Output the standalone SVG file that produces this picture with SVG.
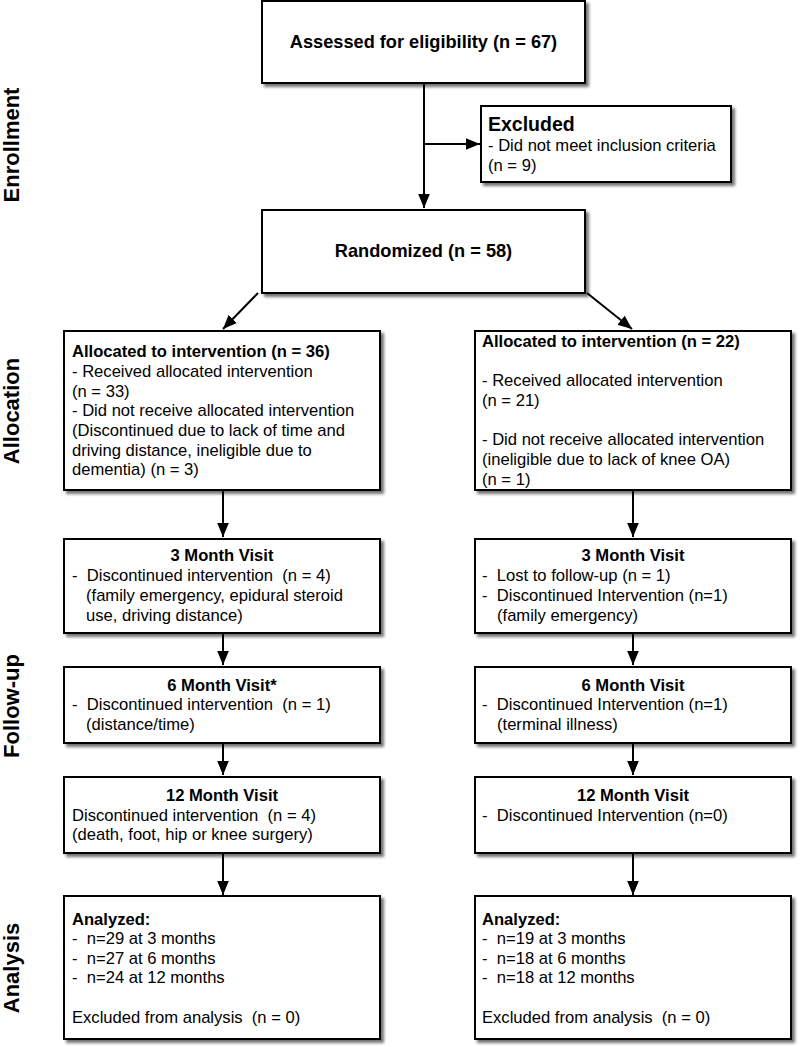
<svg xmlns="http://www.w3.org/2000/svg" width="800" height="1047" viewBox="0 0 800 1047">
<style>
.box{fill:#fff;stroke:#000;stroke-width:2;filter:url(#sh)}
text{font-family:"Liberation Sans",Arial,sans-serif;font-size:16.6px;fill:#000;white-space:pre}
.b{font-weight:bold}
.c{text-anchor:middle}
.t{font-size:18.2px}
.side{font-weight:bold;font-size:22px;text-anchor:middle}
.ln{stroke:#000;stroke-width:2;fill:none;marker-end:url(#ah)}
</style>
<defs>
<filter id="sh" x="-10%" y="-10%" width="125%" height="130%">
<feDropShadow dx="3" dy="3" stdDeviation="1.5" flood-color="#000" flood-opacity="0.55"/>
</filter>
<marker id="ah" viewBox="0 0 12 10" refX="12" refY="5" markerWidth="7" markerHeight="6" markerUnits="strokeWidth" orient="auto">
<path d="M0,0 L12,5 L0,10 Z" fill="#000"/>
</marker>
</defs>

<g id="labels">
<text class="side" transform="translate(19,145) rotate(-90)">Enrollment</text>
<text class="side" transform="translate(19,411) rotate(-90)">Allocation</text>
<text class="side" transform="translate(19,706) rotate(-90)">Follow-up</text>
<text class="side" transform="translate(19,968) rotate(-90)">Analysis</text>
</g>

<g id="connectors">
<path class="ln" d="M424,83 L424,208"/>
<path class="ln" d="M424,144 L480,144"/>
<path class="ln" d="M258,293 L223,329"/>
<path class="ln" d="M587,293 L632,329"/>
<path class="ln" d="M223,490 L223,537"/>
<path class="ln" d="M223,633 L223,665"/>
<path class="ln" d="M223,743 L223,775"/>
<path class="ln" d="M223,853 L223,895"/>
<path class="ln" d="M633,490 L633,537"/>
<path class="ln" d="M633,633 L633,665"/>
<path class="ln" d="M633,743 L633,775"/>
<path class="ln" d="M633,853 L633,895"/>
</g>

<g id="assessed">
<rect class="box" x="262" y="1" width="323" height="82"/>
<text class="b c t" x="423.5" y="48">Assessed for eligibility (n = 67)</text>
</g>

<g id="excluded">
<rect class="box" x="481" y="106" width="250" height="76"/>
<text class="b" x="488" y="131" style="font-size:19.5px">Excluded</text>
<text x="488" y="151">- Did not meet inclusion criteria</text>
<text x="488" y="171">(n = 9)</text>
</g>

<g id="randomized">
<rect class="box" x="262" y="210" width="323" height="83"/>
<text class="b c t" x="423.5" y="257">Randomized (n = 58)</text>
</g>

<g id="alloc-left">
<rect class="box" x="64" y="331" width="316" height="159"/>
<text class="b" x="72" y="357">Allocated to intervention (n = 36)</text>
<text x="72" y="377">- Received allocated intervention</text>
<text x="72" y="397">(n = 33)</text>
<text x="72" y="416">- Did not receive allocated intervention</text>
<text x="72" y="436">(Discontinued due to lack of time and</text>
<text x="72" y="456">driving distance, ineligible due to</text>
<text x="72" y="475">dementia) (n = 3)</text>
</g>

<g id="alloc-right">
<rect class="box" x="475" y="331" width="316" height="159"/>
<text class="b" x="482" y="347">Allocated to intervention (n = 22)</text>
<text x="482" y="386">- Received allocated intervention</text>
<text x="482" y="406">(n = 21)</text>
<text x="482" y="445">- Did not receive allocated intervention</text>
<text x="482" y="465">(ineligible due to lack of knee OA)</text>
<text x="482" y="485">(n = 1)</text>
</g>

<g id="m3-left">
<rect class="box" x="64" y="539" width="316" height="94"/>
<text class="b c" x="222" y="561">3 Month Visit</text>
<text x="72" y="581">-  Discontinued intervention  (n = 4)</text>
<text x="86" y="601">(family emergency, epidural steroid</text>
<text x="86" y="621">use, driving distance)</text>
</g>

<g id="m6-left">
<rect class="box" x="64" y="667" width="316" height="76"/>
<text class="b c" x="222" y="691">6 Month Visit*</text>
<text x="72" y="710">-  Discontinued intervention  (n = 1)</text>
<text x="86" y="730">(distance/time)</text>
</g>

<g id="m12-left">
<rect class="box" x="64" y="777" width="316" height="76"/>
<text class="b c" x="222" y="801">12 Month Visit</text>
<text x="72" y="821">Discontinued intervention  (n = 4)</text>
<text x="72" y="840">(death, foot, hip or knee surgery)</text>
</g>

<g id="analysis-left">
<rect class="box" x="64" y="896" width="316" height="143"/>
<text class="b" x="72" y="925">Analyzed:</text>
<text x="72" y="944">-  n=29 at 3 months</text>
<text x="72" y="964">-  n=27 at 6 months</text>
<text x="72" y="983">-  n=24 at 12 months</text>
<text x="72" y="1023">Excluded from analysis  (n = 0)</text>
</g>

<g id="m3-right">
<rect class="box" x="475" y="539" width="316" height="94"/>
<text class="b c" x="633" y="561">3 Month Visit</text>
<text x="482" y="581">-  Lost to follow-up (n = 1)</text>
<text x="482" y="601">-  Discontinued Intervention (n=1)</text>
<text x="497" y="621">(family emergency)</text>
</g>

<g id="m6-right">
<rect class="box" x="475" y="667" width="316" height="76"/>
<text class="b c" x="633" y="691">6 Month Visit</text>
<text x="482" y="710">-  Discontinued Intervention (n=1)</text>
<text x="497" y="730">(terminal illness)</text>
</g>

<g id="m12-right">
<rect class="box" x="475" y="777" width="316" height="76"/>
<text class="b c" x="633" y="801">12 Month Visit</text>
<text x="482" y="821">-  Discontinued Intervention (n=0)</text>
</g>

<g id="analysis-right">
<rect class="box" x="475" y="896" width="316" height="143"/>
<text class="b" x="482" y="925">Analyzed:</text>
<text x="482" y="944">-  n=19 at 3 months</text>
<text x="482" y="964">-  n=18 at 6 months</text>
<text x="482" y="983">-  n=18 at 12 months</text>
<text x="482" y="1023">Excluded from analysis  (n = 0)</text>
</g>
</svg>
